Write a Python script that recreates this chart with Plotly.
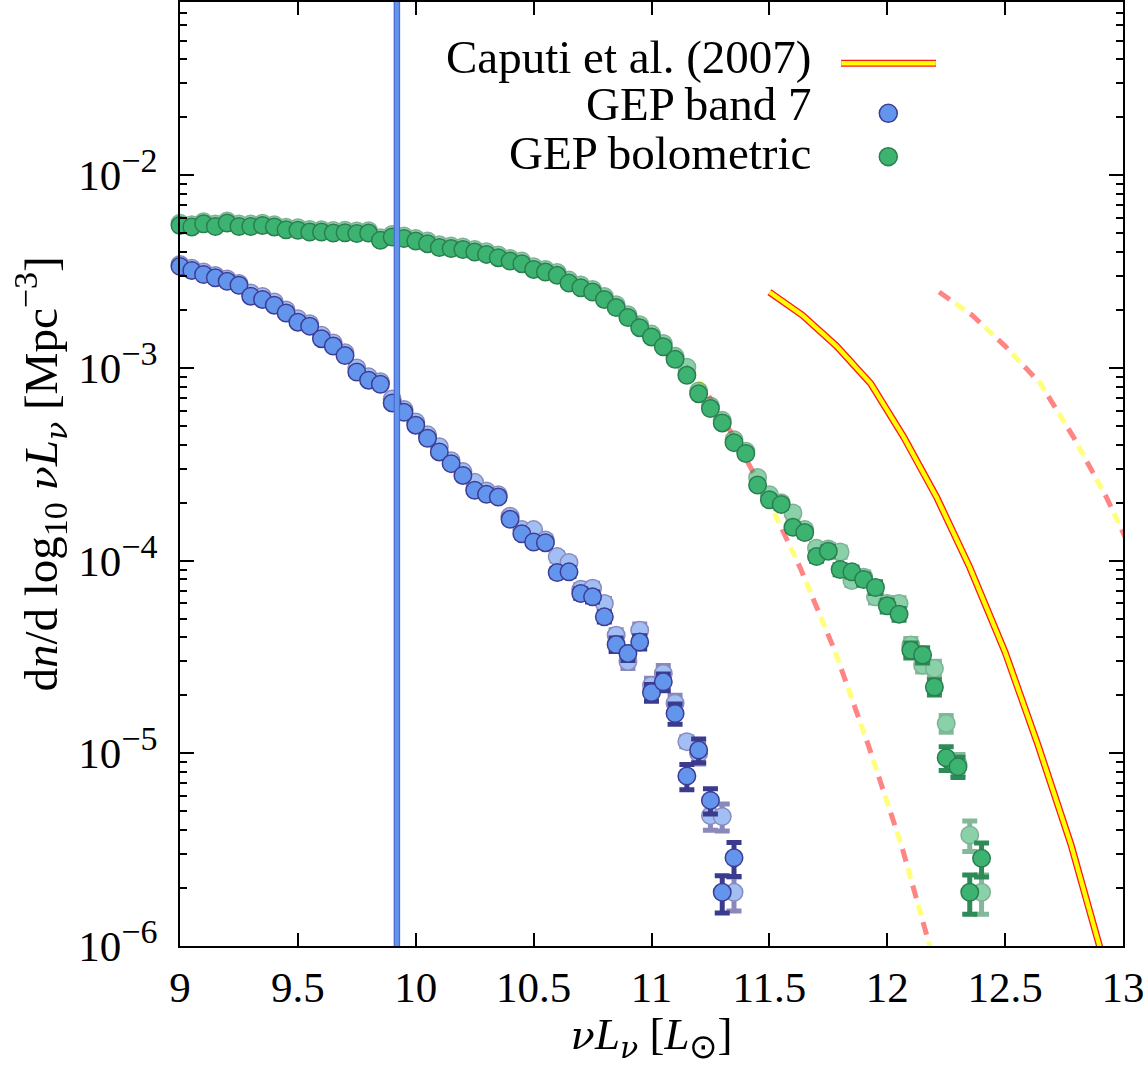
import plotly.graph_objects as go

# ---------------- data ----------------
lum_band7 = [9.00, 9.05, 9.10, 9.15, 9.20, 9.25, 9.30, 9.35, 9.40, 9.45,
             9.50, 9.55, 9.60, 9.65, 9.70, 9.75, 9.80, 9.85, 9.90, 9.95,
             10.00, 10.05, 10.10, 10.15, 10.20, 10.25, 10.30, 10.35, 10.40, 10.45,
             10.50, 10.55, 10.60, 10.65, 10.70, 10.75, 10.80, 10.85, 10.90, 10.95,
             11.00, 11.05, 11.10, 11.15, 11.20, 11.25, 11.30, 11.35]
phi_band7 = [3.37e-3, 3.21e-3, 3.06e-3, 2.94e-3, 2.82e-3, 2.69e-3, 2.36e-3, 2.27e-3, 2.12e-3, 1.93e-3,
             1.73e-3, 1.65e-3, 1.42e-3, 1.30e-3, 1.16e-3, 9.54e-4, 8.65e-4, 8.24e-4, 6.59e-4, 5.89e-4,
             5.05e-4, 4.32e-4, 3.67e-4, 3.19e-4, 2.77e-4, 2.32e-4, 2.21e-4, 2.14e-4, 1.64e-4, 1.38e-4,
             1.25e-4, 1.24e-4, 8.68e-5, 8.75e-5, 6.76e-5, 6.49e-5, 5.11e-5, 3.67e-5, 3.30e-5, 3.78e-5,
             2.07e-5, 2.35e-5, 1.61e-5, 7.62e-6, 1.04e-5, 5.70e-6, 1.90e-6, 2.87e-6]
relerr_band7 = [0.01, 0.01, 0.01, 0.01, 0.01, 0.01, 0.01, 0.01, 0.01, 0.01,
                0.015, 0.015, 0.015, 0.015, 0.015, 0.015, 0.015, 0.015, 0.015, 0.015,
                0.02, 0.02, 0.025, 0.025, 0.03, 0.03, 0.03, 0.035, 0.035, 0.04,
                0.04, 0.045, 0.05, 0.05, 0.055, 0.06, 0.06, 0.08, 0.08, 0.08,
                0.10, 0.10, 0.12, 0.15, 0.14, 0.15, 0.22, 0.20]
phi_band7_alt = [3.45e-3, 3.30e-3, 3.15e-3, 3.02e-3, 2.90e-3, 2.75e-3, 2.45e-3, 2.35e-3, 2.20e-3, 2.00e-3,
                 1.80e-3, 1.70e-3, 1.48e-3, 1.35e-3, 1.20e-3, 1.00e-3, 9.00e-4, 8.50e-4, 6.90e-4, 6.10e-4,
                 5.25e-4, 4.50e-4, 3.90e-4, 3.30e-4, 2.90e-4, 2.55e-4, 2.30e-4, 2.20e-4, 1.70e-4, 1.45e-4,
                 1.45e-4, 1.28e-4, 1.05e-4, 9.80e-5, 7.10e-5, 7.20e-5, 6.00e-5, 4.10e-5, 3.00e-5, 4.35e-5,
                 2.25e-5, 2.60e-5, 1.82e-5, 1.15e-5, 1.00e-5, 4.75e-6, 4.70e-6, 1.90e-6]
relerr_band7_alt = [0.01, 0.01, 0.01, 0.01, 0.01, 0.01, 0.01, 0.01, 0.01, 0.01,
                    0.015, 0.015, 0.015, 0.015, 0.015, 0.015, 0.015, 0.015, 0.015, 0.015,
                    0.02, 0.02, 0.025, 0.025, 0.03, 0.03, 0.03, 0.035, 0.035, 0.04,
                    0.04, 0.045, 0.05, 0.05, 0.055, 0.06, 0.06, 0.07, 0.08, 0.08,
                    0.09, 0.10, 0.10, 0.06, 0.12, 0.16, 0.16, 0.20]

lum_bolo = [9.00, 9.05, 9.10, 9.15, 9.20, 9.25, 9.30, 9.35, 9.40, 9.45,
            9.50, 9.55, 9.60, 9.65, 9.70, 9.75, 9.80, 9.85, 9.90, 9.95,
            10.00, 10.05, 10.10, 10.15, 10.20, 10.25, 10.30, 10.35, 10.40, 10.45,
            10.50, 10.55, 10.60, 10.65, 10.70, 10.75, 10.80, 10.85, 10.90, 10.95,
            11.00, 11.05, 11.10, 11.15, 11.20, 11.25, 11.30, 11.35, 11.40, 11.45,
            11.50, 11.55, 11.60, 11.65, 11.70, 11.75, 11.80, 11.85, 11.90, 11.95,
            12.00, 12.05, 12.10, 12.15, 12.20, 12.25, 12.30, 12.35, 12.40]
phi_bolo = [5.50e-3, 5.40e-3, 5.61e-3, 5.43e-3, 5.66e-3, 5.43e-3, 5.43e-3, 5.50e-3, 5.40e-3, 5.22e-3,
            5.19e-3, 5.08e-3, 5.08e-3, 5.02e-3, 5.04e-3, 4.99e-3, 5.02e-3, 4.60e-3, 4.79e-3, 4.70e-3,
            4.56e-3, 4.42e-3, 4.22e-3, 4.17e-3, 4.12e-3, 4.00e-3, 3.89e-3, 3.74e-3, 3.59e-3, 3.48e-3,
            3.25e-3, 3.15e-3, 3.03e-3, 2.76e-3, 2.61e-3, 2.48e-3, 2.27e-3, 2.06e-3, 1.83e-3, 1.62e-3,
            1.45e-3, 1.29e-3, 1.11e-3, 9.17e-4, 7.36e-4, 6.16e-4, 5.19e-4, 4.10e-4, 3.60e-4, 2.47e-4,
            2.07e-4, 1.96e-4, 1.49e-4, 1.40e-4, 1.05e-4, 1.12e-4, 9.00e-5, 8.75e-5, 7.99e-5, 7.26e-5,
            5.83e-5, 5.28e-5, 3.43e-5, 3.24e-5, 2.21e-5, 9.48e-6, 8.51e-6, 1.90e-6, 2.85e-6]
relerr_bolo = [0.01, 0.01, 0.01, 0.01, 0.01, 0.01, 0.01, 0.01, 0.01, 0.01,
               0.01, 0.01, 0.01, 0.01, 0.01, 0.01, 0.01, 0.01, 0.01, 0.01,
               0.01, 0.01, 0.01, 0.01, 0.012, 0.012, 0.012, 0.012, 0.014, 0.014,
               0.014, 0.015, 0.015, 0.016, 0.016, 0.017, 0.018, 0.018, 0.019, 0.02,
               0.02, 0.022, 0.024, 0.026, 0.028, 0.03, 0.032, 0.035, 0.037, 0.04,
               0.04, 0.045, 0.05, 0.05, 0.055, 0.055, 0.06, 0.06, 0.065, 0.07,
               0.07, 0.07, 0.09, 0.09, 0.09, 0.14, 0.12, 0.23, 0.20]
phi_bolo_alt = [5.65e-3, 5.55e-3, 5.75e-3, 5.60e-3, 5.80e-3, 5.60e-3, 5.60e-3, 5.65e-3, 5.55e-3, 5.38e-3,
                5.35e-3, 5.24e-3, 5.22e-3, 5.17e-3, 5.19e-3, 5.14e-3, 5.16e-3, 4.75e-3, 4.93e-3, 4.85e-3,
                4.70e-3, 4.56e-3, 4.36e-3, 4.30e-3, 4.25e-3, 4.12e-3, 4.01e-3, 3.86e-3, 3.70e-3, 3.59e-3,
                3.36e-3, 3.25e-3, 3.13e-3, 2.86e-3, 2.70e-3, 2.56e-3, 2.35e-3, 2.13e-3, 1.89e-3, 1.68e-3,
                1.50e-3, 1.34e-3, 1.15e-3, 1.01e-3, 7.60e-4, 6.35e-4, 5.35e-4, 4.25e-4, 3.70e-4, 2.70e-4,
                2.20e-4, 2.00e-4, 1.77e-4, 1.45e-4, 1.16e-4, 1.15e-4, 1.11e-4, 7.90e-5, 8.20e-5, 6.49e-5,
                6.00e-5, 6.00e-5, 3.65e-5, 2.87e-5, 2.76e-5, 1.43e-5, 8.80e-6, 3.77e-6, 1.90e-6]
relerr_bolo_alt = [0.01, 0.01, 0.01, 0.01, 0.01, 0.01, 0.01, 0.01, 0.01, 0.01,
                   0.01, 0.01, 0.01, 0.01, 0.01, 0.01, 0.01, 0.01, 0.01, 0.01,
                   0.01, 0.01, 0.01, 0.01, 0.012, 0.012, 0.012, 0.012, 0.014, 0.014,
                   0.014, 0.015, 0.015, 0.016, 0.016, 0.017, 0.018, 0.018, 0.019, 0.02,
                   0.02, 0.022, 0.024, 0.026, 0.028, 0.03, 0.032, 0.035, 0.037, 0.04,
                   0.04, 0.045, 0.05, 0.05, 0.055, 0.055, 0.06, 0.06, 0.065, 0.07,
                   0.07, 0.07, 0.08, 0.08, 0.09, 0.10, 0.12, 0.18, 0.23]

# Caputi et al. (2007) luminosity function and its two shifted versions
caputi_lum = [11.50, 11.64, 11.785, 11.93, 12.07, 12.21, 12.35, 12.50, 12.64, 12.78, 12.92]
caputi_phi = [2.48e-3, 1.88e-3, 1.30e-3, 8.30e-4, 4.38e-4, 2.13e-4, 9.24e-5, 3.35e-5, 1.10e-5, 3.34e-6, 8.2e-7]
caputi_lum_low = [10.78, 10.92, 11.07, 11.21, 11.35, 11.49, 11.63, 11.78, 11.92, 12.06, 12.20]
caputi_lum_high = [12.22, 12.36, 12.50, 12.65, 12.79, 12.93, 13.07, 13.22, 13.36, 13.50, 13.64]

band7_limit = 9.92

x_ticks = [9, 9.5, 10, 10.5, 11, 11.5, 12, 12.5, 13]
x_tick_labels = ["9", "9.5", "10", "10.5", "11", "11.5", "12", "12.5", "13"]
y_ticks = [1e-6, 1e-5, 1e-4, 1e-3, 1e-2]
y_tick_exponents = ["−6", "−5", "−4", "−3", "−2"]
legend_labels = ["Caputi et al. (2007)", "GEP band 7", "GEP bolometric"]

# ---------------- styles ----------------
FONT = "Liberation Serif"
BLUE = "#6495ED"
BLUE_EDGE = "#3d3d96"
BLUE_ERR = "#3b3b8e"
GREEN = "#3cb371"
GREEN_EDGE = "#2a7f4f"
GREEN_ERR = "#2e8b57"
MSIZE = 17.5

SUP = "<sup><span style='font-size:34px'>{}</span></sup>"
SUB = "<sub><span style='font-size:34px'>{}</span></sub>"
NU = "<span style='font-family:DejaVu Serif;font-style:italic;font-size:40px'>ν</span>"
NU_SUB = "<sub><span style='font-family:DejaVu Serif;font-style:italic;font-size:30px'>ν</span></sub>"
y_tick_labels = ["10" + SUP.format(e) for e in y_tick_exponents]

fig = go.Figure()

# dashed two-colour curves
for xs in (caputi_lum_low, caputi_lum_high):
    fig.add_trace(go.Scatter(x=xs, y=caputi_phi, mode="lines", hoverinfo="skip",
                             line=dict(color="rgba(255,255,110,0.9)", width=5, dash="0px,20px,11px,7px")))
    fig.add_trace(go.Scatter(x=xs, y=caputi_phi, mode="lines", hoverinfo="skip",
                             line=dict(color="rgba(255,110,110,0.85)", width=5, dash="13px,25px")))

# Caputi solid (red edge, yellow core)
fig.add_trace(go.Scatter(x=caputi_lum, y=caputi_phi, mode="lines", line=dict(color="#ff1a1a", width=7)))
fig.add_trace(go.Scatter(x=caputi_lum, y=caputi_phi, mode="lines", line=dict(color="#ffff00", width=4.4)))


def pts(x, y, rel, fill, edge, ecol, opacity):
    return go.Scatter(
        x=x, y=y, mode="markers", opacity=opacity, cliponaxis=False,
        marker=dict(size=MSIZE, color=fill, line=dict(color=edge, width=1.5)),
        error_y=dict(type="data", symmetric=True, array=[v * r for v, r in zip(y, rel)],
                     color=ecol, thickness=5, width=7.5))


fig.add_trace(pts(lum_band7, phi_band7_alt, relerr_band7_alt, BLUE, BLUE_EDGE, BLUE_ERR, 0.6))
fig.add_trace(pts(lum_bolo, phi_bolo_alt, relerr_bolo_alt, GREEN, GREEN_EDGE, GREEN_ERR, 0.6))
fig.add_trace(pts(lum_band7, phi_band7, relerr_band7, BLUE, BLUE_EDGE, BLUE_ERR, 1.0))
fig.add_trace(pts(lum_bolo, phi_bolo, relerr_bolo, GREEN, GREEN_EDGE, GREEN_ERR, 1.0))

# vertical band-7 limit line
fig.add_shape(type="line", x0=band7_limit, x1=band7_limit, xref="x", yref="paper", y0=0, y1=1,
              line=dict(color="#4a6bd6", width=6.5), layer="above")
fig.add_shape(type="line", x0=band7_limit, x1=band7_limit, xref="x", yref="paper", y0=0, y1=1,
              line=dict(color=BLUE, width=4), layer="above")

# ---------------- legend (text left, sample right) ----------------
leg_text_x = 0.6713
leg_rows_y = [0.9417, 0.8919, 0.8400]
for lab, yy in zip(legend_labels, leg_rows_y):
    fig.add_annotation(text=lab, xref="paper", yref="paper", x=leg_text_x, y=yy,
                       xanchor="right", yanchor="middle", showarrow=False,
                       font=dict(family=FONT, size=47, color="black"))
fig.add_shape(type="line", xref="paper", yref="paper", x0=0.7010, x1=0.8017, y0=0.9351, y1=0.9351,
              line=dict(color="#ff1a1a", width=7))
fig.add_shape(type="line", xref="paper", yref="paper", x0=0.7012, x1=0.8015, y0=0.9351, y1=0.9351,
              line=dict(color="#ffff00", width=4.4))
for yy, fill, edge in ((0.8821, BLUE, BLUE_EDGE), (0.8361, GREEN, GREEN_EDGE)):
    fig.add_shape(type="circle", xref="paper", yref="paper", xsizemode="pixel", ysizemode="pixel",
                  xanchor=0.7511, yanchor=yy, x0=-9, x1=9, y0=-9, y1=9,
                  fillcolor=fill, line=dict(color=edge, width=1.5))

# ---------------- axes ----------------
minor_y = [m * 10.0 ** e for e in range(-6, -1) for m in range(2, 10)]

fig.update_layout(
    width=1143, height=1065,
    margin=dict(l=180, r=20, t=2, b=119, autoexpand=False),
    paper_bgcolor="white", plot_bgcolor="white", showlegend=False,
    font=dict(family=FONT, size=43, color="black"),
)
fig.update_xaxes(
    range=[9, 13], tickmode="array", tickvals=x_ticks, ticktext=x_tick_labels,
    ticks="inside", ticklen=13, tickwidth=2, tickcolor="black",
    showline=True, linewidth=2, linecolor="black", mirror="allticks",
    showgrid=False, zeroline=False, ticklabelstandoff=2, ticklabeloverflow="allow",
    automargin=False,
    title=dict(text=NU + "<i>L</i>" + NU_SUB + " [<i>L</i>" + SUB.format("⊙") + "]",
               standoff=13, font=dict(family=FONT, size=45)),
)
fig.update_yaxes(
    type="log", range=[-6, -1.1], tickmode="array", tickvals=y_ticks, ticktext=y_tick_labels,
    ticks="inside", ticklen=14, tickwidth=2, tickcolor="black",
    showline=True, linewidth=2, linecolor="black", mirror="allticks",
    showgrid=False, zeroline=False, ticklabelstandoff=12, automargin=False,
    minor=dict(tickmode="array", tickvals=minor_y, ticks="inside", ticklen=7, tickwidth=2,
               tickcolor="black", showgrid=False),
    title=dict(text="d<i>n</i>/d log" + SUB.format("10") + " " + NU + "<i>L</i>" + NU_SUB
               + " [Mpc" + SUP.format("−3") + "]",
               standoff=6, font=dict(family=FONT, size=47)),
)

fig.write_html("out.html", config={"displayModeBar": False},
               post_script="document.body.style.margin='0px';")
